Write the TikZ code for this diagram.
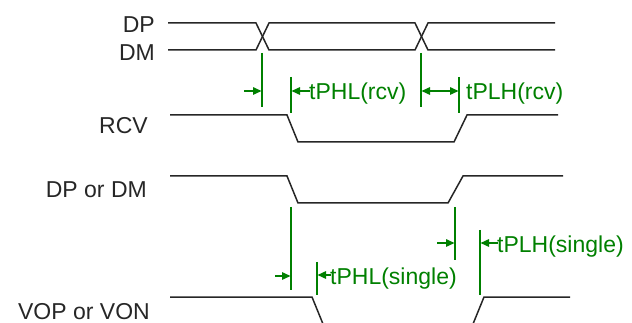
\documentclass[tikz,border=0pt]{standalone}
\usepackage{fontspec}
\setmainfont{Liberation Sans}
\usetikzlibrary{arrows.meta}
\definecolor{tgreen}{RGB}{0,128,0}
\begin{document}
\begin{tikzpicture}[x=1pt,y=-1pt,
  sig/.style={line width=1.5pt,black!85,line join=miter},
  mk/.style={line width=1.5pt,tgreen},
  ar/.style={line width=1.5pt,tgreen,-{Triangle[length=8.5pt,width=7.5pt]}},
  dar/.style={line width=1.5pt,tgreen,{Triangle[length=8.5pt,width=7.5pt]}-{Triangle[length=8.5pt,width=7.5pt]}},
  lbl/.style={font=\fontsize{23}{23}\selectfont,inner sep=0pt,anchor=base east,text=black!85},
  glbl/.style={font=\fontsize{23}{23}\selectfont,inner sep=0pt,anchor=base west,text=tgreen}]
\useasboundingbox (0,0) rectangle (632,323);
% labels
\node[lbl] (ldp) at (155,33) {DP};
\node[lbl] (ldm) at (155,61) {DM};
\node[lbl] (lrcv) at (148,134) {RCV};
\node[lbl] (ldpdm) at (147,198) {DP or DM};
\node[lbl] (lvop) at (150,319) {VOP or VON};
% signals
\draw[sig] (168,23) -- (256,23) -- (269,50) -- (415,50) -- (428,23) -- (555,23);
\draw[sig] (168,50) -- (256,50) -- (269,23) -- (415,23) -- (428,50) -- (555,50);
\draw[sig] (170,115) -- (287,115) -- (298,142) -- (454,142) -- (467,115) -- (558,115);
\draw[sig] (170,176) -- (287,176) -- (298,203) -- (448,203) -- (463,176) -- (563,176);
\draw[sig] (170,297) -- (312,297) -- (323,324);
\draw[sig] (473,324) -- (484,297) -- (570,297);
% rcv markers
\coordinate (v1t) at (262,53); \coordinate (v1b) at (262,107);
\coordinate (v2t) at (421,53); \coordinate (v2b) at (421,107);
\coordinate (t1t) at (291,77); \coordinate (t1b) at (291,113);
\coordinate (t2t) at (459,77); \coordinate (t2b) at (459,113);
\draw[mk] (v1t) -- (v1b);
\draw[mk] (v2t) -- (v2b);
\draw[mk] (t1t) -- (t1b);
\draw[mk] (t2t) -- (t2b);
\coordinate (a1s) at (244,91); \coordinate (a1e) at (261.5,91);
\draw[ar] (a1s) -- (a1e);
\node[glbl] (tphlr) at (309,100) {tPHL(rcv)};
\coordinate (a2e) at (291.5,91);
\draw[ar] (tphlr.west |- a2e) ++(1,0) -- (a2e);
\coordinate (a3s) at (421.5,91); \coordinate (a3e) at (458.5,91);
\draw[dar] (a3s) -- (a3e);
\node[glbl] (tplhr) at (466,100) {tPLH(rcv)};
% single markers
\coordinate (v3t) at (291,207); \coordinate (v3b) at (291,290);
\coordinate (v4t) at (455,207); \coordinate (v4b) at (455,260);
\coordinate (t3t) at (317,262); \coordinate (t3b) at (317,295);
\coordinate (t4t) at (480,230); \coordinate (t4b) at (480,295);
\draw[mk] (v3t) -- (v3b);
\draw[mk] (v4t) -- (v4b);
\draw[mk] (t3t) -- (t3b);
\draw[mk] (t4t) -- (t4b);
\coordinate (a4s) at (275,276); \coordinate (a4e) at (290.5,276);
\draw[ar] (a4s) -- (a4e);
\node[glbl] (tphls) at (330,284) {tPHL(single)};
\coordinate (a5e) at (317.5,275);
\draw[ar] (tphls.west |- a5e) ++(1,0) -- (a5e);
\coordinate (a6s) at (437,243); \coordinate (a6e) at (454.5,243);
\draw[ar] (a6s) -- (a6e);
\node[glbl] (tplhs) at (497,253) {tPLH(single)};
\coordinate (a7e) at (480.5,243);
\draw[ar] (tplhs.west |- a7e) ++(1,0) -- (a7e);
\end{tikzpicture}
\end{document}
